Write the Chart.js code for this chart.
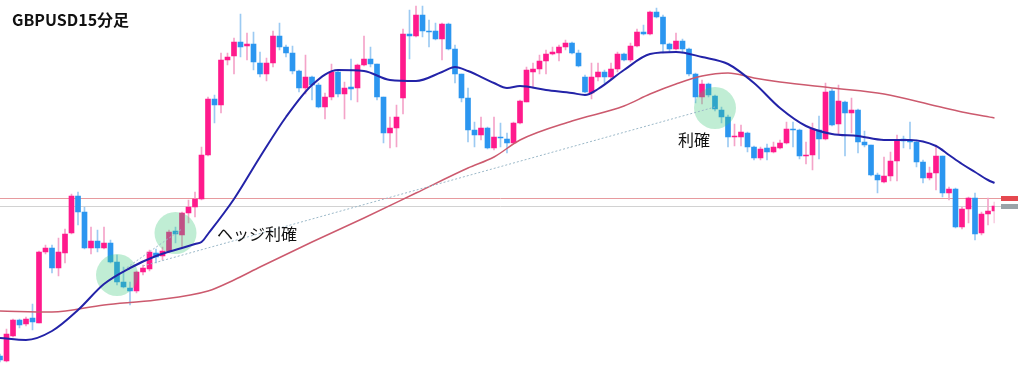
<!DOCTYPE html>
<html>
<head>
<meta charset="utf-8">
<script src="https://cdn.jsdelivr.net/npm/chart.js@4.4.1/dist/chart.umd.min.js"></script>
<style>
  html, body { margin: 0; padding: 0; background: #ffffff; }
  #wrap { position: relative; width: 1024px; height: 384px; }
</style>
</head>
<body>
<div id="wrap"><canvas id="chart"></canvas></div>
<script>
// price in pips above the chart's base level, one value per 15-minute bar
const openP = [
  44, 39, 64, 80, 76, 82, 77, 148, 152, 132,
  147, 167, 204, 188, 152, 159, 152, 157, 138, 118,
  112, 109, 128, 131, 147, 144, 149, 169, 165, 187,
  193, 201, 245, 301, 295, 340, 344, 358, 354, 356,
  337, 326, 337, 364, 353, 347, 329, 312, 323, 315,
  293, 303, 328, 306, 313, 312, 335, 341, 336, 303,
  267, 272, 302, 366, 364, 385, 369, 369, 361, 376,
  351, 326, 302, 270, 265, 272, 252, 263, 261, 257,
  277, 298, 328, 331, 339, 346, 347, 353, 357, 347,
  323, 307, 323, 328, 323, 331, 346, 340, 354, 368,
  366, 388, 383, 356, 351, 359, 351, 326, 303, 316,
  304, 290, 283, 263, 263, 267, 253, 242, 252, 248,
  252, 257, 271, 270, 244, 245, 270, 261, 309, 276,
  298, 287, 290, 258, 255, 225, 218, 224, 239, 261,
  260, 258, 238, 222, 227, 244, 207, 211, 173, 191,
  202, 167, 186, 189
];
const highP = [
  46, 71, 81, 81, 83, 96, 149, 155, 155, 162,
  171, 206, 208, 193, 173, 170, 173, 160, 145, 133,
  118, 129, 135, 150, 151, 153, 170, 173, 188, 200,
  208, 253, 303, 305, 347, 347, 362, 386, 367, 368,
  348, 342, 369, 377, 355, 354, 330, 345, 324, 317,
  307, 336, 329, 318, 341, 336, 364, 353, 336, 303,
  283, 295, 371, 390, 394, 394, 380, 377, 377, 377,
  355, 326, 312, 278, 283, 273, 283, 277, 267, 278,
  300, 333, 337, 345, 350, 353, 355, 360, 358, 350,
  325, 337, 337, 330, 337, 348, 347, 357, 371, 375,
  389, 392, 385, 357, 367, 361, 352, 327, 320, 317,
  305, 293, 285, 276, 275, 268, 254, 253, 256, 258,
  260, 278, 278, 271, 258, 277, 284, 317, 311, 315,
  299, 302, 291, 269, 255, 227, 243, 248, 265, 264,
  278, 260, 240, 233, 255, 244, 213, 212, 193, 203,
  207, 188, 202, 198
];
const lowP = [
  38, 38, 63, 72, 74, 70, 77, 146, 127, 124,
  137, 166, 175, 151, 146, 148, 151, 137, 115, 112,
  95, 107, 125, 129, 137, 140, 147, 157, 153, 177,
  183, 200, 244, 277, 287, 335, 326, 343, 340, 330,
  323, 319, 333, 350, 343, 326, 308, 306, 300, 292,
  281, 300, 303, 281, 300, 298, 334, 333, 300, 257,
  252, 253, 286, 341, 363, 363, 353, 360, 340, 350,
  317, 298, 258, 253, 260, 251, 250, 253, 247, 257,
  276, 298, 312, 326, 326, 345, 339, 350, 346, 333,
  307, 301, 319, 317, 320, 328, 339, 338, 353, 365,
  365, 382, 347, 348, 350, 347, 324, 297, 296, 303,
  289, 277, 253, 254, 254, 248, 240, 240, 240, 247,
  251, 256, 253, 241, 236, 230, 241, 260, 274, 265,
  244, 267, 247, 253, 224, 207, 217, 219, 219, 252,
  251, 233, 217, 220, 210, 203, 200, 172, 171, 177,
  160, 165, 175, 177
];
const closeP = [
  40, 66, 80, 75, 81, 78, 148, 152, 132, 148,
  166, 204, 188, 152, 159, 152, 157, 138, 118, 113,
  109, 128, 132, 148, 143, 149, 168, 166, 187, 193,
  201, 245, 301, 295, 340, 343, 358, 353, 356, 338,
  326, 337, 364, 353, 347, 329, 312, 323, 315, 293,
  303, 328, 306, 312, 311, 335, 341, 336, 303, 267,
  272, 283, 366, 364, 385, 369, 368, 361, 376, 351,
  326, 302, 270, 265, 272, 252, 263, 262, 257, 277,
  299, 330, 331, 339, 346, 348, 353, 357, 347, 334,
  308, 323, 328, 323, 331, 346, 340, 354, 368, 366,
  388, 383, 356, 351, 359, 351, 326, 303, 316, 305,
  291, 283, 263, 264, 268, 253, 242, 251, 248, 253,
  257, 271, 270, 244, 245, 271, 261, 308, 275, 299,
  287, 290, 258, 255, 225, 220, 224, 239, 260, 259,
  258, 238, 222, 227, 244, 207, 211, 173, 191, 202,
  166, 186, 189, 194
];

// moving averages, read at selected bars
const fastIdx = [0, 4, 8, 12, 16, 20, 24, 28, 30, 31, 32, 36, 40, 44, 48, 52, 56, 60, 64, 68, 70, 72, 76, 78, 80, 84, 88, 90, 92, 96, 100, 104, 108, 112, 116, 120, 124, 128, 132, 136, 140, 144, 146, 148, 150, 152, 153];
const fastMA = [62, 60, 69, 90, 116, 132, 144, 152, 156, 158, 166, 201, 243, 283, 315, 330, 329, 320, 319, 328, 333, 329, 317, 312, 314, 310, 307, 305, 311, 330, 346, 348, 343, 336, 317, 292, 274, 266, 264, 260, 260, 254, 245, 236, 228, 220, 217];
const slowIdx = [0, 8, 16, 24, 32, 36, 40, 48, 56, 64, 72, 76, 80, 88, 96, 100, 104, 108, 112, 116, 120, 128, 136, 144, 148, 153];
const slowMA = [89, 88, 95, 100, 109, 120, 133, 158, 182, 207, 232, 243, 260, 279, 294, 306, 316, 324, 327, 322, 318, 312, 306, 294, 288, 282];

// horizontal price lines (red, gray)
const levels = [202, 194];

// marked bars: hedge entry, hedge take-profit, take-profit
const markIdx = [18, 27, 110];
const markVal = [125, 167, 292];
// dotted links between marks
const linkShortIdx = [19, 28];
const linkShortVal = [130, 171];
const linkLongIdx = [22, 110];
const linkLongVal = [134, 293];

const N = openP.length;
const labels = openP.map((_, i) => i);

const UP = '#ff1a8c';
const DOWN = '#2b96f0';
const UP_WICK = '#f4a4c9';
const DOWN_WICK = '#9ccaf2';

function sparse(idx, vals) {
    const a = new Array(N).fill(null);
    idx.forEach((k, j) => { a[k] = vals[j]; });
    return a;
}

const isUp = closeP.map((c, i) => c >= openP[i]);

const overlayPlugin = {
    id: 'overlay',
    beforeDatasetsDraw(chart) {
        const ctx = chart.ctx;
        const y = chart.scales.y;
        const cols = ['#e79a9e', '#d2d2d2'];
        const tags = ['#e5484f', '#9aa3a8'];
        ctx.save();
        levels.forEach((lv, k) => {
            const py = Math.round(y.getPixelForValue(lv)) + 0.5;
            ctx.strokeStyle = cols[k];
            ctx.lineWidth = 1;
            ctx.beginPath();
            ctx.moveTo(0, py);
            ctx.lineTo(1001, py);
            ctx.stroke();
            ctx.fillStyle = tags[k];
            ctx.fillRect(1001, py - 2.5, 17, 5);
        });
        ctx.restore();
    },
    afterDraw(chart) {
        const ctx = chart.ctx;
        ctx.save();
        ctx.fillStyle = '#111111';
        ctx.textBaseline = 'middle';
        ctx.font = "bold 16px 'Noto Sans CJK JP', 'Noto Sans', sans-serif";
        ctx.fillText('GBPUSD15分足', 12, 20);
        ctx.font = "16px 'Noto Sans CJK JP', sans-serif";
        ctx.fillText('ヘッジ利確', 217, 234);
        ctx.fillText('利確', 678, 140);
        ctx.restore();
    }
};

new Chart(document.getElementById('chart'), {
    type: 'bar',
    data: {
        labels: labels,
        datasets: [
            {
                type: 'line',
                label: 'links',
                data: sparse(linkShortIdx, linkShortVal),
                borderColor: '#9bb8c8',
                borderWidth: 1,
                borderDash: [2, 2],
                pointRadius: 0,
                spanGaps: true,
                order: 1
            },
            {
                type: 'line',
                label: 'links2',
                data: sparse(linkLongIdx, linkLongVal),
                borderColor: '#9bb8c8',
                borderWidth: 1,
                borderDash: [2, 2],
                pointRadius: 0,
                spanGaps: true,
                order: 1
            },
            {
                type: 'line',
                label: 'fast MA',
                data: sparse(fastIdx, fastMA),
                borderColor: '#2323a8',
                borderWidth: 2,
                pointRadius: 0,
                spanGaps: true,
                cubicInterpolationMode: 'monotone',
                order: 2
            },
            {
                type: 'line',
                label: 'slow MA',
                data: sparse(slowIdx, slowMA),
                borderColor: '#cc5a6e',
                borderWidth: 1.5,
                pointRadius: 0,
                spanGaps: true,
                cubicInterpolationMode: 'monotone',
                order: 3
            },
            {
                type: 'line',
                label: 'marks',
                data: sparse(markIdx, markVal),
                showLine: false,
                pointRadius: 21,
                pointBorderWidth: 0,
                pointBackgroundColor: 'rgba(60, 200, 120, 0.32)',
                borderColor: 'rgba(0,0,0,0)',
                order: 4
            },
            {
                label: 'body',
                data: openP.map((o, i) => [o, closeP[i]]),
                backgroundColor: isUp.map(u => u ? UP : DOWN),
                barThickness: 5,
                minBarLength: 1,
                grouped: false,
                order: 5
            },
            {
                label: 'wick',
                data: lowP.map((l, i) => [l, highP[i]]),
                backgroundColor: isUp.map(u => u ? UP_WICK : DOWN_WICK),
                barThickness: 1,
                grouped: false,
                order: 6
            }
        ]
    },
    options: {
        responsive: true,
        maintainAspectRatio: false,
        animation: false,
        layout: { autoPadding: false, padding: { left: 0, right: 29.5, top: 0, bottom: 0 } },
        plugins: {
            legend: { display: false },
            tooltip: { enabled: false }
        },
        scales: {
            x: { display: false, offset: false },
            y: { display: false, min: 16, max: 400 }
        }
    },
    plugins: [overlayPlugin]
});
</script>
</body>
</html>
